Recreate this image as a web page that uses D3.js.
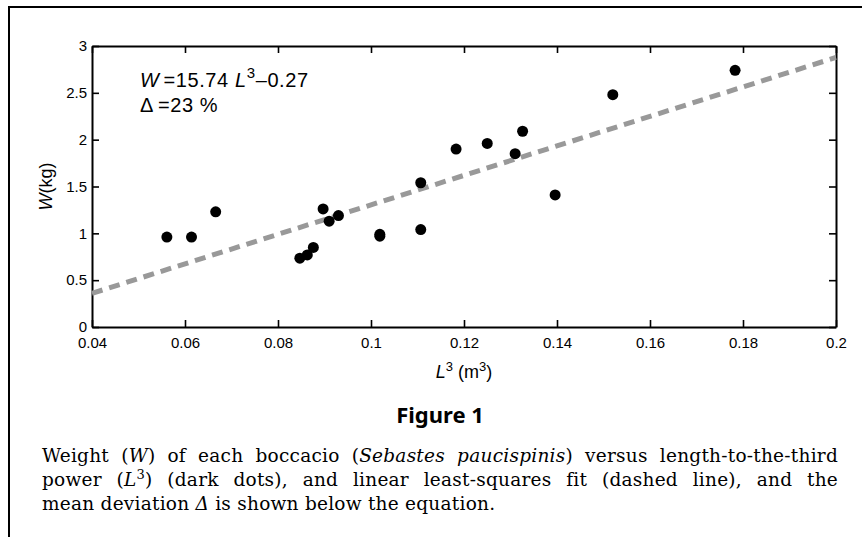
<!DOCTYPE html>
<html>
<head>
<meta charset="utf-8">
<script src="https://cdn.jsdelivr.net/npm/d3@7"></script>
<style>
  body { margin: 0; background: #fff; }
</style>
</head>
<body>
<div id="chart"></div>
<script>
// length cubed (m^3) and weight (kg)
const lengthCubed = [0.0561, 0.0614, 0.0666, 0.0847, 0.0863, 0.0876, 0.0897, 0.0910, 0.0930, 0.1019,
                     0.1019, 0.1107, 0.1107, 0.1183, 0.1250, 0.1310, 0.1326, 0.1396, 0.1520, 0.1783];
const weight      = [0.96, 0.96, 1.23, 0.735, 0.77, 0.85, 1.26, 1.13, 1.19, 0.97,
                     0.99, 1.04, 1.54, 1.90, 1.96, 1.85, 2.09, 1.41, 2.48, 2.74];
const xTicks = [0.04, 0.06, 0.08, 0.1, 0.12, 0.14, 0.16, 0.18, 0.2];
const yTicks = [0, 0.5, 1, 1.5, 2, 2.5, 3];
const fitSlope = 15.74, fitIntercept = -0.27;
const meanDeviation = 23;

const width = 862, height = 537;
const margin = {top: 46, right: 26, bottom: 210, left: 92};
const w = width - margin.left - margin.right,
      h = height - margin.top - margin.bottom;

const svg = d3.select("#chart").append("svg")
    .attr("width", width)
    .attr("height", height);

// frame (cropped page box)
svg.append("path")
    .attr("d", `M9,${height}V7H${width}`)
    .attr("fill", "none")
    .attr("stroke", "#000")
    .attr("stroke-width", 2);

const g = svg.append("g")
    .attr("transform", `translate(${margin.left},${margin.top})`);

const x = d3.scaleLinear().domain([0.04, 0.2]).range([0, w]);
const y = d3.scaleLinear().domain([0, 3]).range([h, 0]);

const sans = "'Liberation Sans', Arial, sans-serif";
const tick = 7;

function styleAxis(sel) {
    sel.selectAll(".domain").attr("stroke-width", 2);
    sel.selectAll(".tick line").attr("stroke-width", 1.6);
    sel.selectAll("text")
        .style("font-family", sans)
        .style("font-size", "15px")
        .attr("fill", "#000");
}

g.append("g")
    .attr("transform", `translate(0,${h})`)
    .call(d3.axisBottom(x).tickValues(xTicks).tickSizeInner(-tick).tickSizeOuter(0)
        .tickPadding(10).tickFormat(d => String(d)))
    .call(styleAxis);
g.append("g")
    .call(d3.axisTop(x).tickValues(xTicks).tickSizeInner(-tick).tickSizeOuter(0).tickFormat(""))
    .call(styleAxis);
g.append("g")
    .call(d3.axisLeft(y).tickValues(yTicks).tickSizeInner(-tick).tickSizeOuter(0)
        .tickPadding(5).tickFormat(d => String(d)))
    .call(styleAxis);
g.append("g")
    .attr("transform", `translate(${w},0)`)
    .call(d3.axisRight(y).tickValues(yTicks).tickSizeInner(-tick).tickSizeOuter(0).tickFormat(""))
    .call(styleAxis);

// least-squares fit
const fitX = x.domain();
g.append("path")
    .datum(fitX.map(v => [v, fitSlope * v + fitIntercept]))
    .attr("d", d3.line().x(d => x(d[0])).y(d => y(d[1])))
    .attr("fill", "none")
    .attr("stroke", "#999")
    .attr("stroke-width", 5)
    .attr("stroke-dasharray", "11,7");

// data points
g.append("g")
    .selectAll("circle")
    .data(lengthCubed.map((v, i) => [v, weight[i]]))
    .join("circle")
    .attr("cx", d => x(d[0]))
    .attr("cy", d => y(d[1]))
    .attr("r", 5.5)
    .attr("fill", "#000");

// equation
const eq = g.append("text")
    .attr("x", 48).attr("y", 41)
    .attr("font-family", sans).attr("font-size", 20)
    .attr("letter-spacing", 0.6);
eq.append("tspan").attr("font-style", "italic").text("W");
eq.append("tspan").attr("dx", 4).text("=" + fitSlope + " ");
eq.append("tspan").attr("font-style", "italic").text("L");
eq.append("tspan").attr("dy", -9).attr("font-size", 15).text("3");
eq.append("tspan").attr("dy", 9).text("\u2013" + Math.abs(fitIntercept));

const dv = g.append("text")
    .attr("x", 48).attr("y", 66)
    .attr("font-family", sans).attr("font-size", 20)
    .attr("letter-spacing", 0.6);
dv.append("tspan").text("\u0394");
dv.append("tspan").attr("dx", 4).text("=" + meanDeviation + " %");

// axis labels
const yl = g.append("text")
    .attr("transform", `translate(${-40},${h / 2}) rotate(-90)`)
    .attr("text-anchor", "middle")
    .attr("font-family", sans).attr("font-size", 18);
yl.append("tspan").attr("font-style", "italic").text("W");
yl.append("tspan").text("(kg)");

const xl = g.append("text")
    .attr("x", w / 2).attr("y", h + 51)
    .attr("text-anchor", "middle")
    .attr("font-family", sans).attr("font-size", 18);
xl.append("tspan").attr("font-style", "italic").text("L");
xl.append("tspan").attr("dy", -7).attr("font-size", 13).text("3");
xl.append("tspan").attr("dy", 7).text(" (m");
xl.append("tspan").attr("dy", -7).attr("font-size", 13).text("3");
xl.append("tspan").attr("dy", 7).text(")");

// figure title and caption
const capLeft = 42, capRight = 838;
svg.append("text")
    .attr("x", (capLeft + capRight) / 2).attr("y", 423)
    .attr("text-anchor", "middle")
    .attr("font-family", "'Noto Sans', 'Open Sans', sans-serif")
    .attr("font-weight", "bold")
    .attr("font-size", 22)
    .text("Figure 1");

const captionLines = [
    [["Weight (", ""], ["W", "i"], [") of each boccacio (", ""], ["Sebastes paucispinis", "i"], [") versus length-to-the-third", ""]],
    [["power (", ""], ["L", "i"], ["3", "sup"], [") (dark dots), and linear least-squares fit (dashed line), and the", ""]],
    [["mean deviation ", ""], ["\u0394", "i"], [" is shown below the equation.", ""]]
];
const capBaseline = 462, capLeading = 24;

const capTexts = captionLines.map((parts, li) => {
    const t = svg.append("text")
        .attr("x", capLeft).attr("y", capBaseline + li * capLeading)
        .attr("font-family", "'DejaVu Serif', serif")
        .attr("font-size", 18.5)
        .attr("fill", "#000");
    let shifted = false;
    parts.forEach(([s, k]) => {
        const ts = t.append("tspan").text(s);
        if (k === "i") ts.attr("font-style", "italic");
        if (k === "sup") { ts.attr("dy", -7).attr("font-size", 13); shifted = true; }
        else if (shifted) { ts.attr("dy", 7); shifted = false; }
    });
    return t;
});

// spread the first line's letters a little, then justify by word spacing
const full = capRight - capLeft;
const firstStr = captionLines[0].map(p => p[0]).join("");
const ls = Math.max(0, (full - 8 * 6 - capTexts[0].node().getComputedTextLength()) / firstStr.length);
capTexts.forEach(t => t.attr("letter-spacing", ls));
capTexts.forEach((t, li) => {
    if (li === captionLines.length - 1) return;
    const natural = t.node().getComputedTextLength();
    const spaces = captionLines[li].map(p => p[0]).join("").split(" ").length - 1;
    t.attr("word-spacing", (full - natural) / spaces);
});
</script>
</body>
</html>
